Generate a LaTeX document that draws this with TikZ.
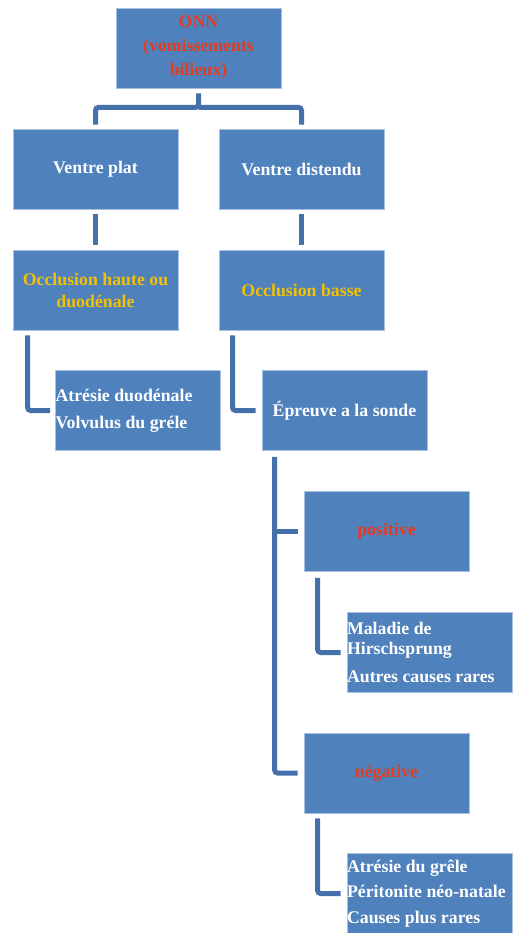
\documentclass[tikz,border=0pt]{standalone}
\usepackage{fontspec}
\setmainfont{Liberation Serif}
\definecolor{boxblue}{HTML}{4F81BD}
\definecolor{boxedge}{HTML}{A9C1E0}
\definecolor{connblue}{HTML}{4571AA}
\definecolor{txtred}{HTML}{E53B1E}
\definecolor{txtyel}{HTML}{F2C200}
\begin{document}
\begin{tikzpicture}[x=1pt,y=-1pt,
  box/.style={rectangle, fill=boxblue, draw=boxedge, line width=0.8pt,
    minimum width=165pt, minimum height=80pt, inner sep=0pt,
    font=\bfseries\fontsize{17.8}{22}\selectfont, text=white, align=center},
  lbox/.style={box, text width=165pt, align=flush left},
  conn/.style={draw=connblue, line width=5pt, rounded corners=3pt}]
\useasboundingbox (0,0) rectangle (516,933);

\node[box, text=txtred, font=\bfseries\fontsize{17.8}{24}\selectfont] (onn) at (198.5,48) {ONN\\(vomissements\\bilieux)};
\node[box] (vp) at (95.5,169) {Ventre plat};
\node[box] (vd) at (301.5,169) {Ventre distendu};
\node[box, text=txtyel] (oh) at (95.5,290) {Occlusion haute ou\\duodénale};
\node[box, text=txtyel] (ob) at (301.5,290) {Occlusion basse};
\node[lbox, font=\bfseries\fontsize{17.8}{27}\selectfont] (atr) at (138,410.5) {Atrésie duodénale\\Volvulus du gréle};
\node[box] (ep) at (344.5,410.5) {Épreuve a la sonde};
\node[box, text=txtred] (pos) at (386.5,531.5) {positive};
\node[lbox, font=\bfseries\fontsize{17.8}{20}\selectfont] (mal) at (429.5,652.5) {Maladie de\\Hirschsprung\\[8pt]Autres causes rares};
\node[box, text=txtred] (neg) at (386.5,773) {négative};
\node[lbox, font=\bfseries\fontsize{17.8}{25.5}\selectfont] (agr) at (429.5,893.5) {Atrésie du grêle\\Péritonite néo-natale\\Causes plus rares};

% top tree
\draw[conn] ([yshift=-5pt]onn.south) -- ([yshift=-19pt]onn.south) -| ([yshift=4pt]vp.north);
\draw[conn] ([yshift=-19pt]onn.south) -| ([yshift=4pt]vd.north);
\draw[conn] ([yshift=-5pt]vp.south) -- ([yshift=5pt]oh.north);
\draw[conn] ([yshift=-5pt]vd.south) -- ([yshift=5pt]ob.north);

% L connectors
\draw[conn] ([xshift=15pt,yshift=-5pt]oh.south west) |- ([xshift=-5pt]atr.west);
\draw[conn] ([xshift=14pt,yshift=-5pt]ob.south west) |- ([xshift=-6pt]ep.west);

\coordinate (t) at ([xshift=13pt,yshift=-6pt]ep.south west);
\draw[conn] (t) |- ([xshift=-6pt]neg.west);
\draw[conn, rounded corners=0pt] (t |- pos.west) -- ([xshift=-6pt]pos.west);

\draw[conn] ([xshift=14pt,yshift=-6pt]pos.south west) |- ([xshift=-6pt]mal.west);
\draw[conn] ([xshift=14pt,yshift=-5pt]neg.south west) |- ([xshift=-6pt]agr.west);
\end{tikzpicture}
\end{document}
